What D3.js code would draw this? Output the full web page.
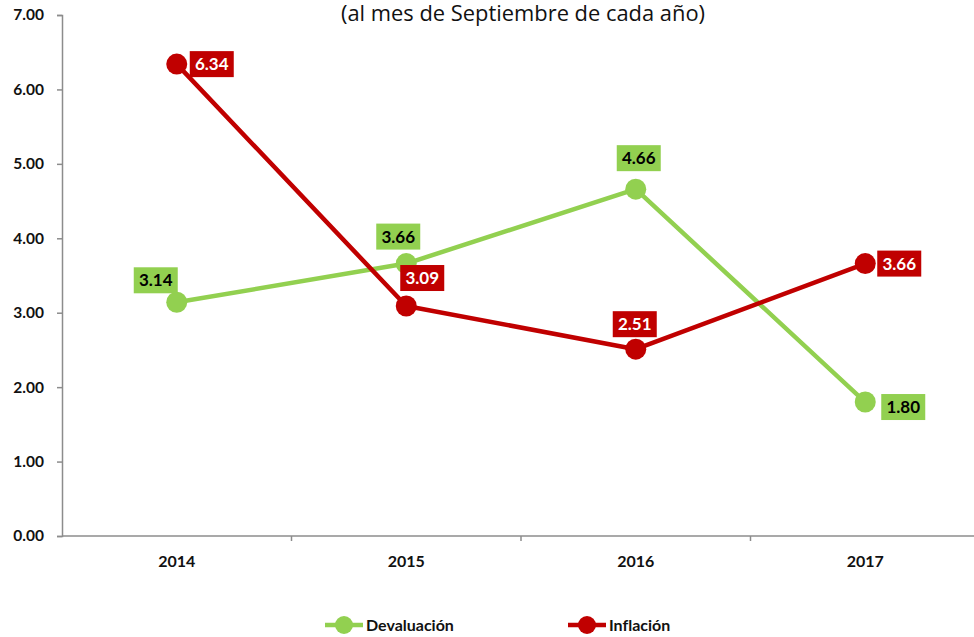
<!DOCTYPE html>
<html>
<head>
<meta charset="utf-8">
<script src="https://cdn.jsdelivr.net/npm/d3@7"></script>
<style>
  body { margin: 0; background: #fff; }
  text { font-family: Lato, "Open Sans", sans-serif; font-variant-ligatures: none; }
</style>
</head>
<body>
<script>
// chart data
var years = ["2014", "2015", "2016", "2017"];
var devaluacion = [3.14, 3.66, 4.66, 1.80];
var inflacion = [6.34, 3.09, 2.51, 3.66];
var yTicks = [0, 1, 2, 3, 4, 5, 6, 7];
var title = "(al mes de Septiembre de cada año)";

// where each value label box sits, relative to its point
var devLabelOffset = [[-21, -22], [-8, -27], [3, -31], [38, 5]];
var infLabelOffset = [[35, 0], [16, -28], [-1, -25], [34, 0]];

var width = 974, height = 637;
var green = "#92d050", red = "#c00000";

var svg = d3.select("body").append("svg")
  .attr("width", width)
  .attr("height", height);

var x = d3.scaleBand().domain(years).range([62, 980]);
var y = d3.scaleLinear().domain([0, 7]).range([536, 15]);

// title, partly cut by the top edge
svg.append("text")
  .attr("x", 523)
  .attr("y", 21)
  .attr("text-anchor", "middle")
  .attr("font-size", "21px")
  .attr("textLength", 364)
  .attr("lengthAdjust", "spacingAndGlyphs")
  .attr("fill", "#111")
  .style("font-family", "'Open Sans', sans-serif")
  .text(title);

// y axis
var yAxis = svg.append("g")
  .attr("transform", "translate(62,0)")
  .call(d3.axisLeft(y).tickValues(yTicks).tickFormat(d3.format(".2f")).tickSize(5).tickPadding(13));
yAxis.select(".domain").attr("stroke", "#8c8c8c").attr("stroke-width", 1.5);
yAxis.selectAll(".tick line").attr("stroke", "#8c8c8c").attr("stroke-width", 1.5);
yAxis.selectAll(".tick text")
  .attr("font-size", "15.5px")
  .attr("font-weight", "bold")
  .attr("fill", "#111")
  .style("font-family", "Lato, sans-serif");

// x axis: ticks sit between categories
var xAxisG = svg.append("g").attr("transform", "translate(0,536)");
xAxisG.append("line")
  .attr("x1", 62).attr("x2", width)
  .attr("stroke", "#8c8c8c").attr("stroke-width", 1.5);
xAxisG.selectAll("line.tk")
  .data(years.slice(1))
  .enter().append("line")
  .attr("class", "tk")
  .attr("x1", function(d) { return x(d); })
  .attr("x2", function(d) { return x(d); })
  .attr("y1", 0).attr("y2", 5)
  .attr("stroke", "#8c8c8c").attr("stroke-width", 1.5);
xAxisG.selectAll("text")
  .data(years)
  .enter().append("text")
  .attr("x", function(d) { return x(d) + x.bandwidth() / 2; })
  .attr("y", 31)
  .attr("text-anchor", "middle")
  .attr("font-size", "16px")
  .attr("font-weight", "bold")
  .attr("fill", "#111")
  .text(function(d) { return d; });

function cx(i) { return x(years[i]) + x.bandwidth() / 2; }

var line = d3.line()
  .x(function(d, i) { return cx(i); })
  .y(function(d) { return y(d); });

var series = [
  { name: "Devaluación", values: devaluacion, color: green, textColor: "#000", offsets: devLabelOffset },
  { name: "Inflación", values: inflacion, color: red, textColor: "#fff", offsets: infLabelOffset }
];

series.forEach(function(s) {
  svg.append("path")
    .datum(s.values)
    .attr("d", line)
    .attr("fill", "none")
    .attr("stroke", s.color)
    .attr("stroke-width", 4.5)
    .attr("stroke-linejoin", "round");

  svg.selectAll(null)
    .data(s.values)
    .enter().append("circle")
    .attr("cx", function(d, i) { return cx(i); })
    .attr("cy", function(d) { return y(d); })
    .attr("r", 10.5)
    .attr("fill", s.color);
});

// value labels in filled boxes
series.forEach(function(s) {
  var g = svg.selectAll(null)
    .data(s.values)
    .enter().append("g")
    .attr("transform", function(d, i) {
      return "translate(" + (cx(i) + s.offsets[i][0]) + "," + (y(d) + s.offsets[i][1]) + ")";
    });
  g.append("rect")
    .attr("x", -22).attr("y", -13)
    .attr("width", 44).attr("height", 26)
    .attr("fill", s.color);
  g.append("text")
    .attr("text-anchor", "middle")
    .attr("dy", "0.36em")
    .attr("font-size", "17px")
    .attr("font-weight", "bold")
    .attr("fill", s.textColor)
    .text(function(d) { return d3.format(".2f")(d); });
});

// legend
var legendX = [325, 568];
var legend = svg.selectAll("g.legend")
  .data(series)
  .enter().append("g")
  .attr("class", "legend")
  .attr("transform", function(d, i) { return "translate(" + legendX[i] + ",625)"; });
legend.append("line")
  .attr("x1", 0).attr("x2", 38)
  .attr("stroke", function(d) { return d.color; })
  .attr("stroke-width", 4.5);
legend.append("circle")
  .attr("cx", 19).attr("r", 9)
  .attr("fill", function(d) { return d.color; });
legend.append("text")
  .attr("x", 41)
  .attr("dy", "0.36em")
  .attr("font-size", "16px")
  .attr("font-weight", "bold")
  .attr("fill", "#111")
  .text(function(d) { return d.name; });
</script>
</body>
</html>
